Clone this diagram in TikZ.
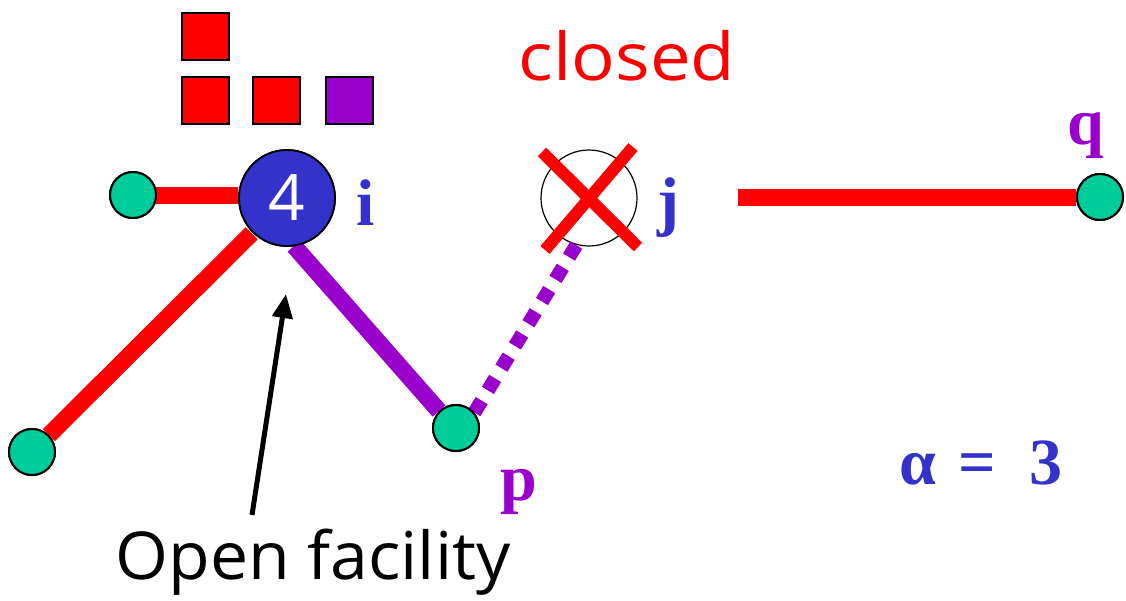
\documentclass[tikz,border=0pt]{standalone}
\usepackage{fontspec}
\setmainfont{Liberation Serif}
\newfontfamily\handfont{Open Sans}
\usetikzlibrary{arrows.meta}
\definecolor{fred}{HTML}{FF0000}
\definecolor{fpurple}{HTML}{9900CC}
\definecolor{fblue}{HTML}{3333CC}
\definecolor{fgreen}{HTML}{00CC99}
\begin{document}
\begin{tikzpicture}[x=1pt,y=-1pt,
  client/.style={circle,draw=black,line width=2pt,fill=fgreen,minimum size=46pt,inner sep=0pt},
  facility/.style={circle,draw=black,line width=1.8pt,minimum size=96pt,inner sep=0pt},
  openfac/.style={facility,fill=fblue,text=white,font=\handfont\fontsize{64}{64}\selectfont},
  token/.style={draw=black,line width=2pt,minimum size=47pt,inner sep=0pt},
  edge/.style={line width=17pt},
  lab/.style={font=\fontsize{66}{66}\selectfont\bfseries},
  hand/.style={font=\handfont\fontsize{66}{66}\selectfont}
]
\useasboundingbox (0,0) rectangle (1126,600);

% tokens paid by clients
\node[token,fill=fred] (t1) at (205.5,36) {};
\node[token,fill=fred] (t2) at (205.5,100) {};
\node[token,fill=fred] (t3) at (276.5,100) {};
\node[token,fill=fpurple] (t4) at (349.5,100) {};

% facilities
\node[openfac] (fi) at (287,198) {};
\node[facility,fill=white,line width=1.2pt] (fj) at (589,198) {};

% clients
\node[client] (c1) at (133,195) {};
\node[client] (c2) at (32,452) {};
\node[client] (cp) at (456,428) {};
\node[client] (cq) at (1100,197) {};
\coordinate (qend) at (738,197);
\coordinate (ptail) at (294,246);

% connections
\draw[edge,fred,shorten <=-2pt] (c1.east) -- (fi.west |- c1.east);
\draw[edge,fred,shorten >=1pt] (c2.45) -- (fi.225);
\draw[edge,fpurple] (cp.135) -- (ptail);
\draw[fpurple,line width=14pt,dash pattern=on 14pt off 12pt] (cp.40) -- (fj.-105);
\draw[edge,fred] (qend) -- (cq.west);

% redraw facility i and clients on top of edge ends
\node[openfac] at (fi) {4};
\node[client] at (c1) {};
\node[client] at (c2) {};
\node[client] at (cp) {};
\node[client] at (cq) {};

% closed facility cross
\coordinate (x1) at (542,152);
\coordinate (x2) at (638,247);
\coordinate (x3) at (633,147);
\coordinate (x4) at (545,250);
\draw[fred,line width=12pt] (x1) -- (x2);
\draw[fred,line width=12pt] (x3) -- (x4);

% labels
\node[lab,text=fblue] (li) at (366,203) {i};
\node[lab,text=fblue] (lj) at (668,208) {j};
\node[lab,text=fpurple] (lq) at (1086,136) {q};
\node[lab,text=fpurple] (lp) at (519,492) {p};
\node[lab,text=fblue] (la) at (981,463) {α\,\,=\,\,\,3};
\node[hand,text=fred,xscale=1.1] (lc) at (627,56) {closed};
\node[hand,text=black,xscale=1.03] (lo) at (313,562) {Open facility};

\draw[-{Triangle[length=24pt,width=20pt]},line width=5pt] (252,515) -- (286,294);
\end{tikzpicture}
\end{document}
